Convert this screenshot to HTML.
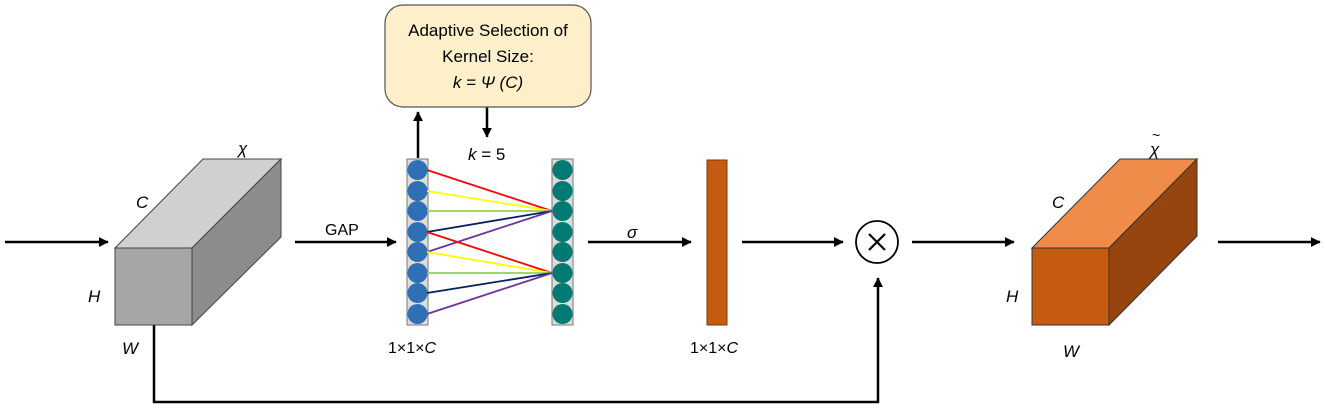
<!DOCTYPE html>
<html><head><meta charset="utf-8"><style>
html,body{margin:0;padding:0;background:#fff}
svg{display:block}
text{font-family:"Liberation Sans","DejaVu Sans",sans-serif;fill:#000}
</style></head><body>
<svg width="1325" height="408" viewBox="0 0 1325 408" xmlns="http://www.w3.org/2000/svg">
<defs>
<marker id="a" markerWidth="10" markerHeight="10" refX="9" refY="5" orient="auto" markerUnits="userSpaceOnUse">
<path d="M0,0 L10,5 L0,10 L2.5,5 Z" fill="#000" transform="scale(1.4) translate(-3,-1.4)"/>
</marker>
</defs>
<g stroke="#000" stroke-width="2.5" fill="none">
<line x1="5" y1="242" x2="108" y2="242" marker-end="url(#a)"/>
<line x1="295" y1="242" x2="396" y2="242" marker-end="url(#a)"/>
<line x1="588" y1="242" x2="691" y2="242" marker-end="url(#a)"/>
<line x1="742" y1="242" x2="843" y2="242" marker-end="url(#a)"/>
<line x1="912" y1="242" x2="1014" y2="242" marker-end="url(#a)"/>
<line x1="1218" y1="242" x2="1320" y2="242" marker-end="url(#a)"/>
<polyline points="154,325 154,402 878,402 878,278" marker-end="url(#a)"/>
<line x1="418" y1="158" x2="418" y2="112" marker-end="url(#a)"/>
<line x1="487" y1="107" x2="487" y2="137" marker-end="url(#a)"/>
</g>
<!-- gray box -->
<polygon points="115,248 203,159 281,159 192,248" fill="#d0d0d0" stroke="#444" stroke-width="1"/>
<polygon points="192,248 281,159 281,237 192,325" fill="#8c8c8c" stroke="#444" stroke-width="1"/>
<rect x="115" y="248" width="77" height="77" fill="#a6a6a6" stroke="#444" stroke-width="1"/>
<!-- orange box -->
<polygon points="1032,248 1120,159 1197,159 1109,248" fill="#f08c4a" stroke="#333" stroke-width="1"/>
<polygon points="1109,248 1197,159 1197,236 1109,325" fill="#97450e" stroke="#333" stroke-width="1"/>
<rect x="1032" y="248" width="77" height="77" fill="#c55a11" stroke="#333" stroke-width="1"/>
<!-- yellow box -->
<rect x="385" y="5" width="206" height="102" rx="18" fill="#fdefc9" stroke="#555" stroke-width="1.2"/>
<text x="488" y="36" font-size="17" text-anchor="middle">Adaptive Selection of</text>
<text x="488" y="62" font-size="17" text-anchor="middle">Kernel Size:</text>
<text x="488" y="88" font-size="17" text-anchor="middle" font-style="italic">k = Ψ (C)</text>
<text x="468" y="160" font-size="17"><tspan font-style="italic">k</tspan> = 5</text>
<!-- columns -->
<rect x="407" y="159" width="21" height="166" fill="#ddd" stroke="#777" stroke-width="1"/>
<rect x="552" y="159" width="21" height="166" fill="#ddd" stroke="#777" stroke-width="1"/>
<g fill="#2e6fb5">
<circle cx="417.5" cy="170" r="10"/><circle cx="417.5" cy="191" r="10"/><circle cx="417.5" cy="211" r="10"/><circle cx="417.5" cy="232" r="10"/><circle cx="417.5" cy="252" r="10"/><circle cx="417.5" cy="273" r="10"/><circle cx="417.5" cy="293" r="10"/><circle cx="417.5" cy="314" r="10"/>
</g>
<g fill="#007a73">
<circle cx="562.5" cy="170" r="10"/><circle cx="562.5" cy="191" r="10"/><circle cx="562.5" cy="211" r="10"/><circle cx="562.5" cy="232" r="10"/><circle cx="562.5" cy="252" r="10"/><circle cx="562.5" cy="273" r="10"/><circle cx="562.5" cy="293" r="10"/><circle cx="562.5" cy="314" r="10"/>
</g>
<g stroke-width="1.8">
<line x1="427" y1="170" x2="552" y2="211" stroke="#ff0000"/>
<line x1="427" y1="191" x2="552" y2="211" stroke="#ffff00"/>
<line x1="427" y1="211" x2="552" y2="211" stroke="#92d050"/>
<line x1="427" y1="232" x2="552" y2="211" stroke="#002060"/>
<line x1="427" y1="252" x2="552" y2="211" stroke="#7030a0"/>
<line x1="427" y1="232" x2="552" y2="273" stroke="#ff0000"/>
<line x1="427" y1="252" x2="552" y2="273" stroke="#ffff00"/>
<line x1="427" y1="273" x2="552" y2="273" stroke="#92d050"/>
<line x1="427" y1="293" x2="552" y2="273" stroke="#002060"/>
<line x1="427" y1="314" x2="552" y2="273" stroke="#7030a0"/>
</g>
<!-- bar -->
<rect x="707" y="160" width="20" height="165" fill="#c55a11" stroke="#7a3a0a" stroke-width="1"/>
<!-- multiply -->
<circle cx="877" cy="242" r="21" fill="#fff" stroke="#000" stroke-width="1.8"/>
<path d="M869,234 L885,250 M885,234 L869,250" stroke="#000" stroke-width="2.2"/>
<!-- labels -->
<g font-size="17" font-style="italic">
<text x="238" y="154">χ</text>
<text x="136" y="208">C</text>
<text x="88" y="302">H</text>
<text x="122" y="354">W</text>
<text x="1150" y="155">χ</text>
<text x="1052" y="208">C</text>
<text x="1006" y="302">H</text>
<text x="1063" y="357">W</text>
<text x="627" y="238">σ</text>
</g>
<text x="1152" y="140" font-size="14">~</text>
<text x="325" y="235" font-size="16">GAP</text>
<text x="388" y="353" font-size="16">1×1×<tspan font-style="italic">C</tspan></text>
<text x="690" y="353" font-size="16">1×1×<tspan font-style="italic">C</tspan></text>
</svg>
</body></html>
